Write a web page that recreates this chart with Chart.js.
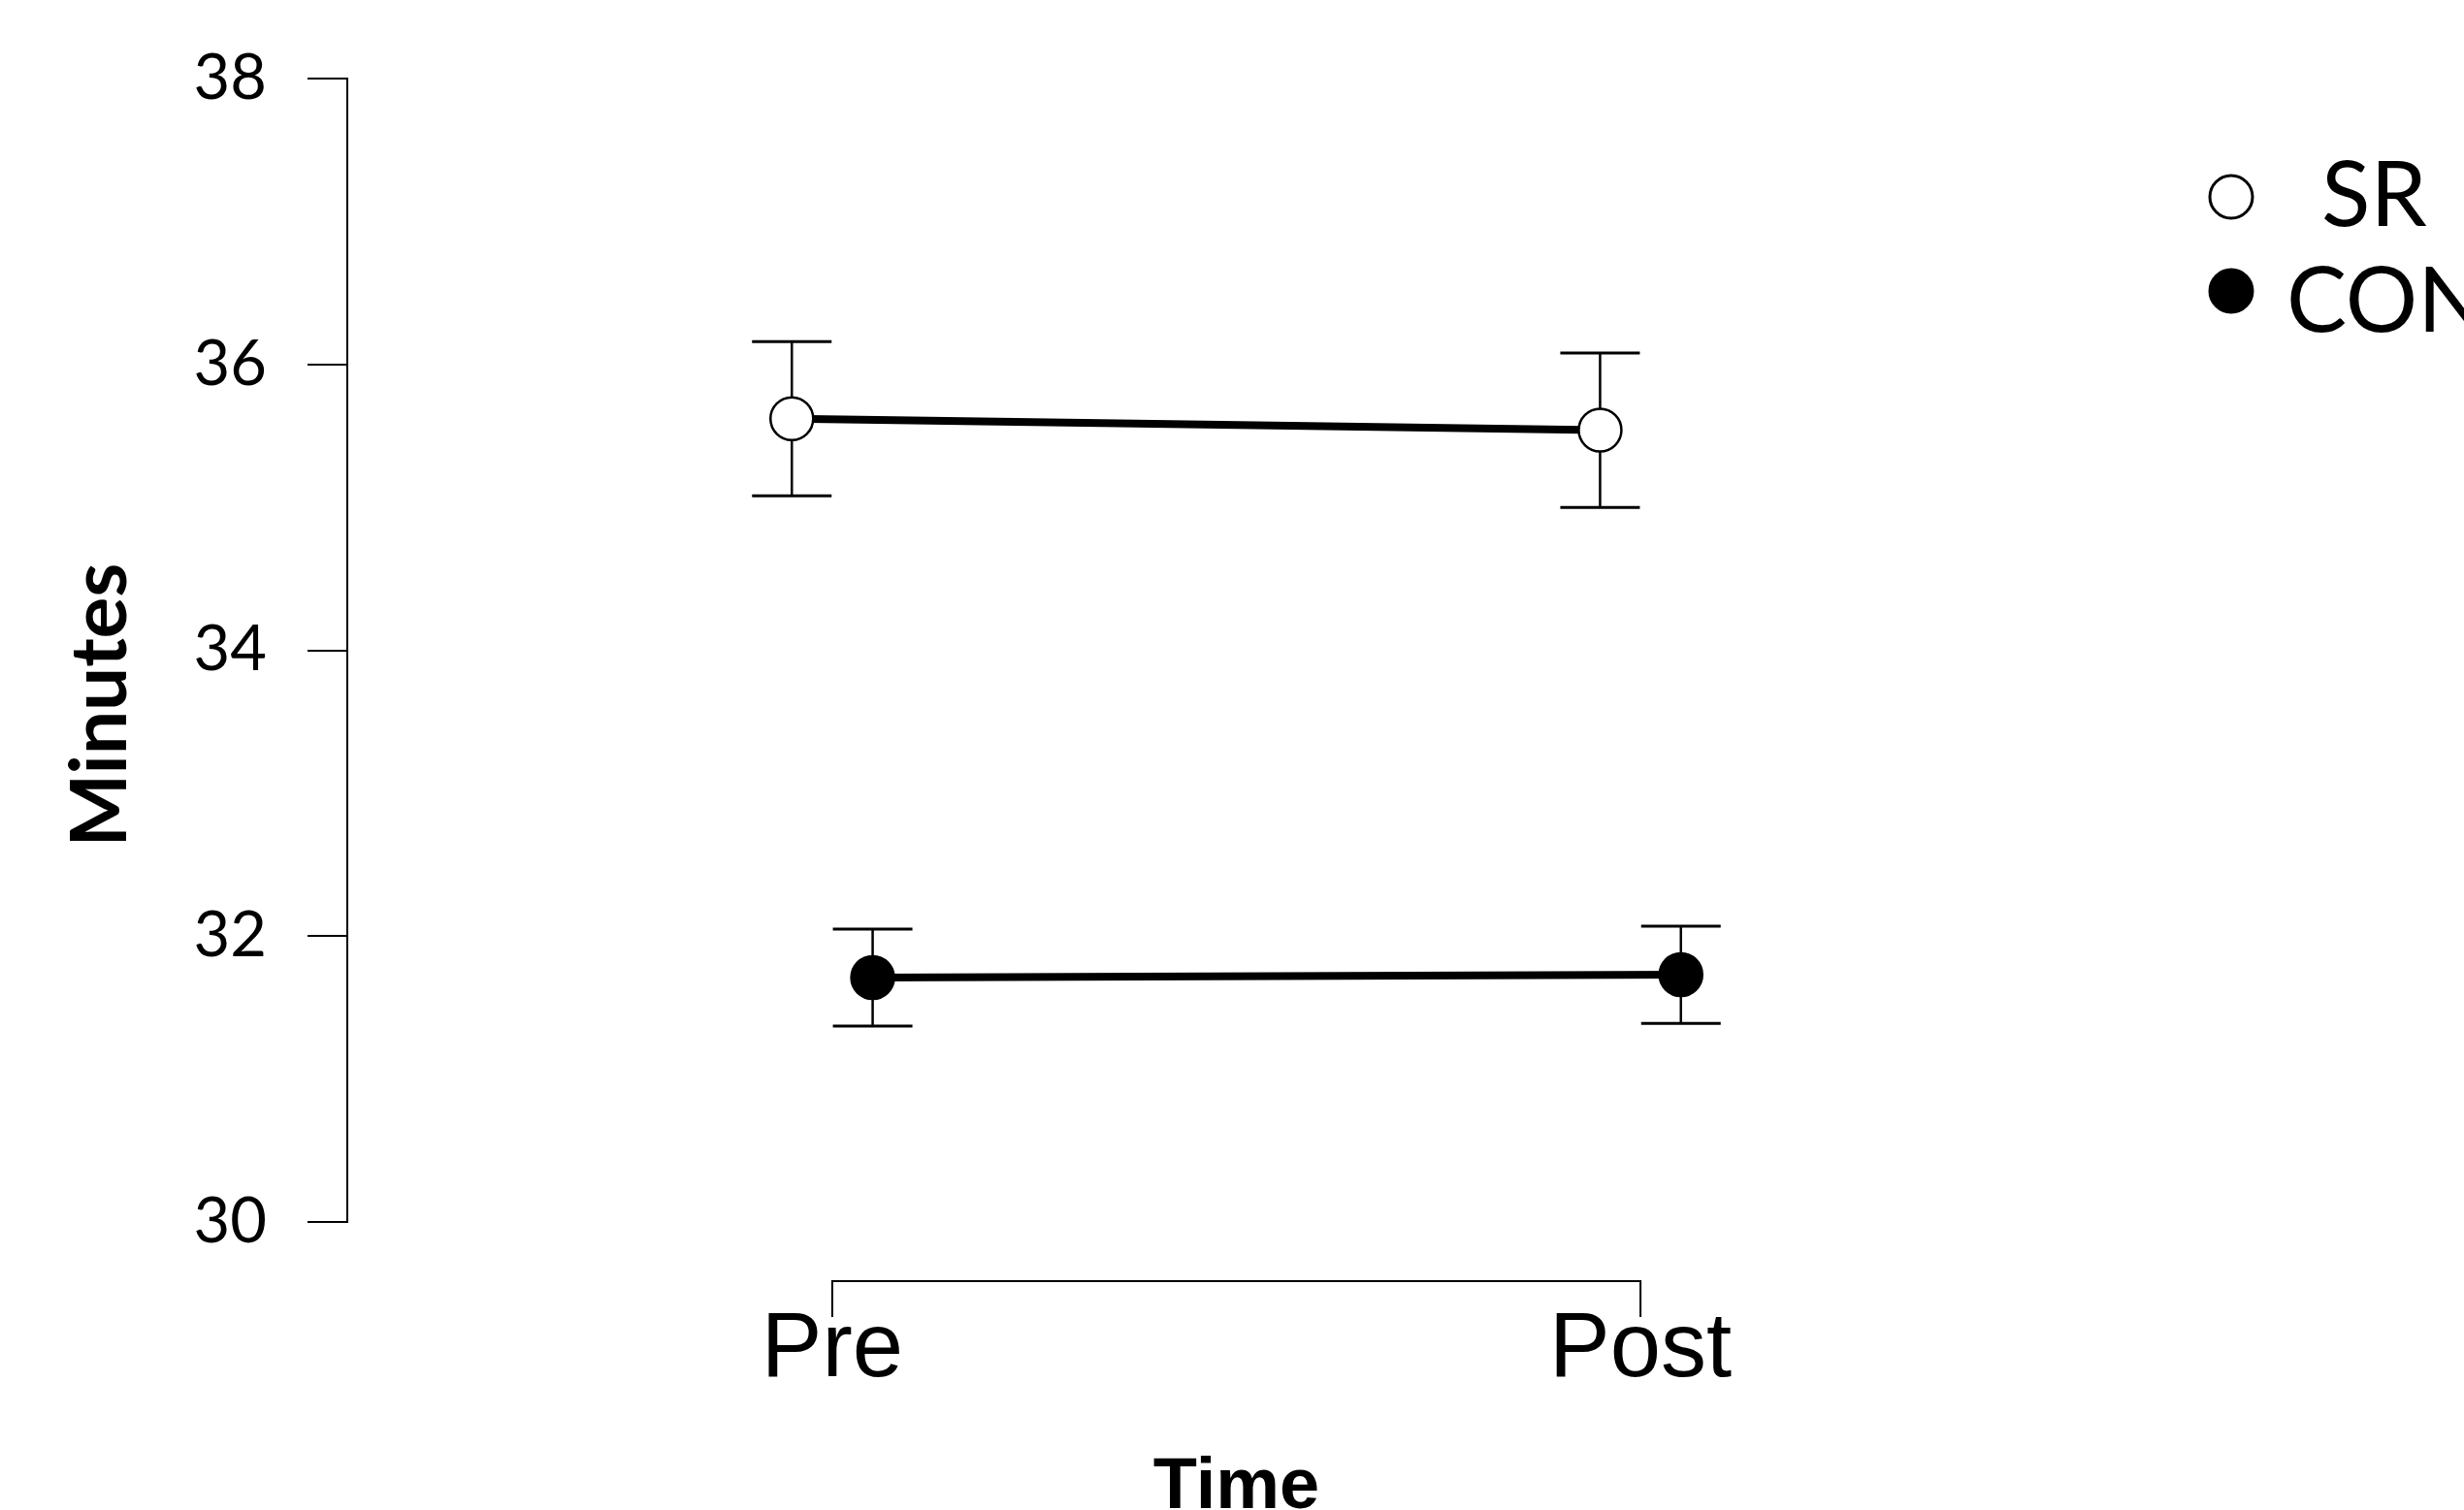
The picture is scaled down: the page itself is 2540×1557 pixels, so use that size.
<!DOCTYPE html>
<html lang="en">
<head>
    <meta charset="UTF-8" />
    <title>Minutes SR vs CON</title>
    <script src="https://cdn.jsdelivr.net/npm/chart.js"></script>
    <style>
        body { margin: 0; background: #fff; }
        #wrap { width: 2540px; height: 1557px; }
    </style>
</head>

<body>

<div id="wrap">
    <canvas id="chart" width="2540" height="1557"></canvas>
</div>

<script>
// data
const categories = ["Pre", "Post"];
const srMean = [35.62, 35.54];
const srErr = [0.54, 0.54];
const conMean = [31.71, 31.73];
const conErr = [0.34, 0.34];
const yTicks = [30, 32, 34, 36, 38];

// groups are nudged sideways around each time point
const dodge = 0.05;

function points(means, shift) {
    return means.map((m, i) => ({ x: i + shift, y: m }));
}

Chart.defaults.color = "#000";

// error bars, drawn under the markers
const errorBars = {
    id: "errorBars",
    beforeDatasetsDraw(chart) {
        const ctx = chart.ctx;
        const xs = chart.scales.x, ys = chart.scales.y;
        const sets = [[srMean, srErr, -dodge], [conMean, conErr, dodge]];
        ctx.save();
        ctx.strokeStyle = "#000";
        sets.forEach(([m, e, shift]) => {
            m.forEach((v, i) => {
                let px = xs.getPixelForValue(i + shift);
                let top = ys.getPixelForValue(v + e[i]);
                let bot = ys.getPixelForValue(v - e[i]);
                ctx.lineWidth = 2.5;
                ctx.beginPath();
                ctx.moveTo(px, top); ctx.lineTo(px, bot);
                ctx.stroke();
                ctx.lineWidth = 3;
                ctx.beginPath();
                ctx.moveTo(px - 41, top); ctx.lineTo(px + 41, top);
                ctx.moveTo(px - 41, bot); ctx.lineTo(px + 41, bot);
                ctx.stroke();
            });
        });
        ctx.restore();
    }
};

// bracket-style x axis, y title and legend
const extras = {
    id: "extras",
    afterDraw(chart) {
        const ctx = chart.ctx;
        const xs = chart.scales.x;
        const a = xs.getPixelForValue(0), b = xs.getPixelForValue(categories.length - 1);
        ctx.save();
        ctx.strokeStyle = "#000";
        ctx.lineWidth = 2;
        ctx.beginPath();
        ctx.moveTo(a, 1358); ctx.lineTo(a, 1321);
        ctx.lineTo(b, 1321); ctx.lineTo(b, 1358);
        ctx.stroke();

        // y title
        ctx.save();
        ctx.translate(130, 727);
        ctx.rotate(-Math.PI / 2);
        ctx.font = "bold 80px Lato";
        ctx.fillStyle = "#000";
        ctx.textAlign = "center";
        ctx.textBaseline = "alphabetic";
        ctx.fillText("Minutes", 0, 0);
        ctx.restore();

        // legend
        const ds = chart.data.datasets;
        const rows = [
            { cy: 203, tx: 2393, by: 233 },
            { cy: 300, tx: 2357, by: 342 }
        ];
        ds.forEach((d, i) => {
            const r = rows[i];
            ctx.beginPath();
            ctx.arc(2300, r.cy, 22, 0, Math.PI * 2);
            ctx.fillStyle = d.pointBackgroundColor;
            ctx.fill();
            ctx.lineWidth = 3;
            ctx.stroke();
            ctx.fillStyle = "#000";
            ctx.font = "93px Lato";
            ctx.textAlign = "left";
            ctx.fillText(d.label, r.tx, r.by);
        });
        ctx.restore();
    }
};

new Chart(document.getElementById("chart"), {
    type: "line",
    data: {
        datasets: [
            {
                label: "SR",
                data: points(srMean, -dodge),
                borderColor: "#000",
                borderWidth: 8,
                pointRadius: 22,
                pointHoverRadius: 22,
                pointBackgroundColor: "#fff",
                pointBorderColor: "#000",
                pointBorderWidth: 2.5
            },
            {
                label: "CON",
                data: points(conMean, dodge),
                borderColor: "#000",
                borderWidth: 8,
                pointRadius: 22,
                pointHoverRadius: 22,
                pointBackgroundColor: "#000",
                pointBorderColor: "#000",
                pointBorderWidth: 2.5
            }
        ]
    },
    options: {
        responsive: false,
        devicePixelRatio: 1,
        animation: false,
        layout: { padding: { top: 80, right: 349, bottom: 0, left: 0 } },
        plugins: {
            legend: { display: false },
            tooltip: { enabled: false }
        },
        scales: {
            x: {
                type: "linear",
                min: -0.6,
                max: 1.6,
                afterFit: s => { s.height = 297; },
                afterBuildTicks: s => { s.ticks = categories.map((c, i) => ({ value: i })); },
                grid: { display: false, drawTicks: false },
                border: { display: false },
                ticks: {
                    padding: 77,
                    font: { family: "Liberation Sans", size: 94 },
                    callback: v => categories[v]
                },
                title: {
                    display: true,
                    text: "Time",
                    font: { family: "Liberation Sans", size: 74, weight: "bold", lineHeight: 0.6 },
                    padding: 0
                }
            },
            y: {
                min: 30,
                max: 38,
                afterFit: s => { s.width = 358; },
                afterBuildTicks: s => { s.ticks = yTicks.map(v => ({ value: v })); },
                grid: { drawOnChartArea: false, drawTicks: true, tickLength: 41, color: "#000", lineWidth: 2 },
                border: { display: true, color: "#000", width: 2 },
                ticks: {
                    padding: 42,
                    font: { family: "Lato", size: 65 }
                }
            }
        }
    },
    plugins: [errorBars, extras]
});
</script>

</body>
</html>
